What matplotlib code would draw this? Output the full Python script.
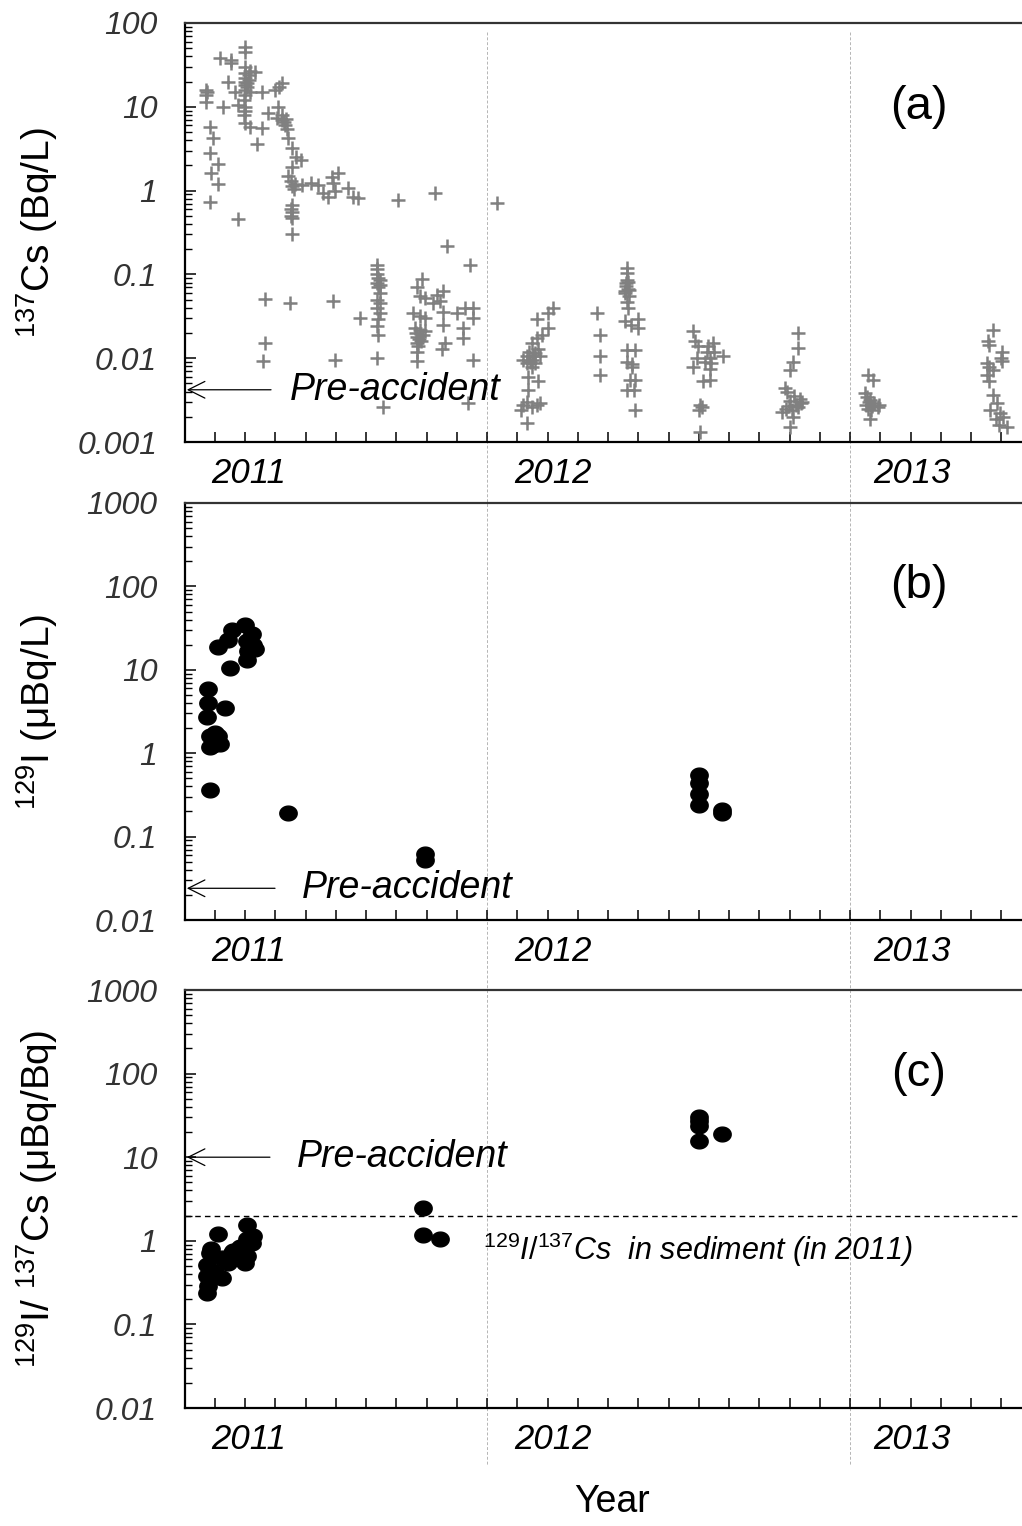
import numpy as np
import matplotlib.pyplot as plt
import matplotlib.transforms as mtransforms
from matplotlib.lines import Line2D
from matplotlib.path import Path
from matplotlib.ticker import FixedLocator, NullFormatter

plt.rcParams['font.family'] = ['Liberation Sans', 'DejaVu Sans']
plt.rcParams['mathtext.fontset'] = 'custom'
plt.rcParams['mathtext.rm'] = 'Liberation Sans'
plt.rcParams['mathtext.it'] = 'Liberation Sans:italic'

# 137Cs in seawater (Bq/L), sampling time as decimal year
cs_year = [
    2011.227, 2011.227, 2011.227, 2011.229, 2011.236, 2011.245, 2011.236, 2011.259, 2011.241, 2011.259, 2011.236,
    2011.265, 2011.296, 2011.294, 2011.273, 2011.287, 2011.306, 2011.314, 2011.314,
    2011.334, 2011.334, 2011.334, 2011.334, 2011.334, 2011.334, 2011.334, 2011.334, 2011.334, 2011.330, 2011.334,
    2011.334, 2011.330, 2011.334,
    2011.340, 2011.340, 2011.343, 2011.348, 2011.348, 2011.345, 2011.362, 2011.348, 2011.381, 2011.367, 2011.381,
    2011.397, 2011.416, 2011.421, 2011.425, 2011.435, 2011.428, 2011.436, 2011.436, 2011.440, 2011.444, 2011.446,
    2011.448, 2011.453, 2011.463,
    2011.473, 2011.487, 2011.463, 2011.453, 2011.459, 2011.463, 2011.470, 2011.468, 2011.463, 2011.459, 2011.463,
    2011.459, 2011.463, 2011.463,
    2011.491, 2011.516, 2011.534, 2011.548, 2011.562, 2011.572, 2011.590, 2011.576, 2011.581, 2011.617, 2011.631,
    2011.645, 2011.754, 2011.858, 2012.028, 2011.891, 2011.954,
    2011.388, 2011.458, 2011.576, 2011.388, 2011.383, 2011.581, 2011.696, 2011.650,
    2011.696, 2011.696, 2011.698, 2011.701, 2011.705, 2011.698, 2011.705, 2011.701, 2011.705, 2011.698, 2011.705,
    2011.698, 2011.705, 2011.701, 2011.698, 2011.701, 2011.714,
    2011.820, 2011.806, 2011.815, 2011.829, 2011.851, 2011.861, 2011.879, 2011.870, 2011.796, 2011.815, 2011.829,
    2011.879, 2011.917, 2011.940, 2011.962, 2011.962, 2011.879, 2011.934, 2011.934,
    2011.803, 2011.808, 2011.813, 2011.818, 2011.806, 2011.823, 2011.810, 2011.828, 2011.801, 2011.816, 2011.884,
    2011.875, 2011.806, 2011.806, 2011.962, 2011.948,
    2012.183, 2012.168, 2012.137, 2012.168, 2012.151, 2012.137, 2012.123, 2012.140, 2012.109, 2012.126, 2012.146,
    2012.098, 2012.123, 2012.109,
    2012.132, 2012.123, 2012.112, 2012.140, 2012.112, 2012.098, 2012.109, 2012.137, 2012.146, 2012.123, 2012.094,
    2012.109, 2012.116, 2012.131, 2012.119,
    2012.303, 2012.312, 2012.312, 2012.312,
    2012.385, 2012.385, 2012.385, 2012.382, 2012.387, 2012.380, 2012.390, 2012.385, 2012.387, 2012.380, 2012.396,
    2012.417, 2012.417, 2012.385,
    2012.409, 2012.385, 2012.399, 2012.399, 2012.393, 2012.409, 2012.385, 2012.406, 2012.409, 2012.383, 2012.388,
    2012.390, 2012.381,
    2012.567, 2012.573, 2012.623, 2012.581, 2012.609, 2012.651, 2012.579, 2012.615, 2012.601, 2012.618,
    2012.615, 2012.567, 2012.615, 2012.595, 2012.587, 2012.593, 2012.583, 2012.587, 2012.606, 2012.626,
    2012.858, 2012.858, 2012.844, 2012.835, 2012.821, 2012.827, 2012.846, 2012.861, 2012.869, 2012.836,
    2012.851, 2012.831, 2012.856, 2012.866, 2012.813, 2012.844, 2012.835, 2012.824, 2012.841,
    2013.050, 2013.064, 2013.041, 2013.046, 2013.056, 2013.051, 2013.066, 2013.043, 2013.061, 2013.076, 2013.049,
    2013.059, 2013.056, 2013.081,
    2013.394, 2013.380, 2013.384, 2013.419, 2013.416, 2013.419, 2013.377, 2013.394, 2013.383, 2013.377,
    2013.383, 2013.394, 2013.405, 2013.386, 2013.413, 2013.422, 2013.411, 2013.433, 2013.403,
]
cs_value = [
    16, 14, 11.5, 15, 5.8, 4.2, 2.8, 2.1, 1.6, 1.2, 0.73,
    38, 36, 33, 10, 20, 15, 10.5, 0.46,
    52, 45, 30, 25, 22, 20, 18, 16, 14, 12, 10,
    9, 8, 6.4,
    19, 17, 24, 27, 15, 21, 26, 5.8, 5.6, 3.6, 15,
    8.5, 16, 7.4, 10, 19, 17, 8, 7, 6.5, 6, 7.2,
    5.5, 4.2, 3.2,
    2.5, 2.3, 1.9, 1.5, 1.3, 1.15, 1.2, 1.05, 0.67, 0.6, 0.55,
    0.5, 0.47, 0.3,
    1.17, 1.23, 1.17, 0.93, 0.85, 1.47, 1.6, 1.23, 0.98, 1.07, 0.85,
    0.81, 0.78, 0.93, 0.71, 0.22, 0.13,
    0.051, 0.046, 0.048, 0.0153, 0.0093, 0.0096, 0.010, 0.030,
    0.13, 0.115, 0.1, 0.09, 0.085, 0.08, 0.075, 0.07, 0.06, 0.05, 0.045,
    0.04, 0.035, 0.029, 0.024, 0.019, 0.0026,
    0.088, 0.07, 0.055, 0.052, 0.046, 0.057, 0.064, 0.048, 0.035, 0.032, 0.03,
    0.036, 0.035, 0.040, 0.040, 0.030, 0.025, 0.023, 0.0175,
    0.02, 0.018, 0.017, 0.016, 0.015, 0.019, 0.014, 0.021, 0.023, 0.022, 0.015,
    0.013, 0.012, 0.0093, 0.0096, 0.0029,
    0.040, 0.035, 0.029, 0.023, 0.019, 0.0175, 0.015, 0.013, 0.0106, 0.0106, 0.0106,
    0.0096, 0.0096, 0.0087,
    0.0087, 0.0078, 0.0059, 0.0053, 0.0042, 0.0028, 0.003, 0.0028, 0.0029, 0.0026, 0.0024,
    0.0017, 0.012, 0.0115, 0.009,
    0.035, 0.019, 0.0107, 0.0063,
    0.12, 0.105, 0.086, 0.072, 0.067, 0.06, 0.055, 0.047, 0.04, 0.028, 0.025,
    0.029, 0.023, 0.0126,
    0.0126, 0.009, 0.0085, 0.0078, 0.0055, 0.0055, 0.0042, 0.0042, 0.0024, 0.078, 0.082,
    0.065, 0.063,
    0.021, 0.016, 0.015, 0.014, 0.014, 0.0107, 0.010, 0.010, 0.009, 0.0088,
    0.0075, 0.0078, 0.0055, 0.0054, 0.0028, 0.0026, 0.0024, 0.0013, 0.012, 0.0118,
    0.0198, 0.0131, 0.0091, 0.0072, 0.0044, 0.0039, 0.0035, 0.0033, 0.003, 0.0031,
    0.0028, 0.0027, 0.0026, 0.0029, 0.0023, 0.002, 0.0015, 0.0025, 0.0024,
    0.0063, 0.0055, 0.0038, 0.0034, 0.0032, 0.003, 0.0029, 0.0028, 0.0027, 0.0026, 0.0025,
    0.0024, 0.0019, 0.0028,
    0.0217, 0.016, 0.0145, 0.0118, 0.0101, 0.0093, 0.0087, 0.0073, 0.0078, 0.0063,
    0.0053, 0.0036, 0.0029, 0.0024, 0.0022, 0.002, 0.0016, 0.0015, 0.0019,
]

# 129I in seawater (uBq/L)
iod_year = [2011.333, 2011.297, 2011.352, 2011.338, 2011.287, 2011.355, 2011.259, 2011.342, 2011.361, 2011.338,
            2011.292, 2011.231, 2011.231, 2011.228, 2011.278, 2011.237, 2011.259, 2011.264, 2011.237, 2011.245,
            2011.251, 2011.237, 2011.453, 2011.829, 2011.829, 2012.585, 2012.585, 2012.585, 2012.585, 2012.646,
            2012.646]
iod_value = [34, 30, 27, 22, 23, 20, 19, 17, 18, 13,
             10.5, 5.9, 4.0, 2.7, 3.5, 1.6, 1.6, 1.3, 1.2, 1.25,
             1.75, 0.36, 0.19, 0.062, 0.052, 0.55, 0.44, 0.32, 0.24, 0.21,
             0.19]

# 129I/137Cs activity ratio (uBq/Bq)
ratio_year = [2011.338, 2011.356, 2011.352, 2011.338, 2011.333, 2011.260, 2011.297, 2011.237, 2011.287, 2011.228,
              2011.269, 2011.269, 2011.228, 2011.232, 2011.228, 2011.240, 2011.300, 2011.320, 2011.340, 2011.250,
              2011.824, 2011.824, 2011.870, 2012.585, 2012.585, 2012.585, 2012.585, 2012.646]
ratio_value = [1.56, 1.13, 0.94, 0.65, 0.55, 1.19, 0.72, 0.72, 0.55, 0.52,
               0.63, 0.36, 0.38, 0.29, 0.24, 0.80, 0.75, 0.85, 1.05, 0.42,
               2.47, 1.18, 1.05, 30, 27, 23.6, 15.7, 19]

pre_accident = [0.0042, 0.024, 10]
sediment_ratio = 2.0

panel_tags = ['(a)', '(b)', '(c)']
y_titles = [r'$\mathrm{^{137}}$Cs (Bq/L)',
            r'$\mathrm{^{129}}$I (μBq/L)',
            r'$\mathrm{^{129}}$I/ $\mathrm{^{137}}$Cs (μBq/Bq)']
y_limits = [(0.001, 100), (0.01, 1000), (0.01, 1000)]
year_labels = ['2011', '2012', '2013']
year_label_pos = [2011.342, 2012.183, 2013.171]
year_lines = [2012.0, 2013.0]

W, H = 1022, 1526
fig = plt.figure(figsize=(W / 100, H / 100), dpi=100)

# axes boxes in pixels: (top, bottom)
boxes = [(23, 442), (503, 920), (990, 1408)]
left_px, right_px = 185, 1021
x_range = (2011.168, 2013.471)

circle = np.linspace(0, 2 * np.pi, 60)
dot = Path(np.column_stack([np.cos(circle), 0.85 * np.sin(circle)]))

axes = []
for i, (top, bottom) in enumerate(boxes):
    ax = fig.add_axes([left_px / W, 1 - bottom / H, (right_px - left_px) / W, (bottom - top) / H])
    ax.set_facecolor('none')
    ax.set_yscale('log')
    ax.set_xlim(*x_range)
    ax.set_ylim(*y_limits[i])
    ax.spines['right'].set_visible(False)
    for side in ['left', 'bottom', 'top']:
        ax.spines[side].set_linewidth(1.6)
    ax.spines['top'].set_color('#333333')

    # monthly ticks along the time axis
    ax.xaxis.set_major_locator(FixedLocator(np.arange(2011 + 2 / 12, 2013.5, 1 / 12)))
    ax.xaxis.set_major_formatter(NullFormatter())
    ax.tick_params(axis='x', which='both', direction='in', length=7, width=1.1, top=False)

    lo, hi = y_limits[i]
    majors = 10.0 ** np.arange(np.log10(lo), np.log10(hi) + 0.5)
    minors = [m * d for d in majors[:-1] for m in range(2, 10)]
    ax.set_yticks(majors)
    ax.set_yticks(minors, minor=True)
    ax.set_yticklabels([f'{v:g}' for v in majors], fontsize=23, fontstyle='italic', color='#333333')
    ax.yaxis.set_minor_formatter(NullFormatter())
    ax.tick_params(axis='y', which='major', direction='in', length=8, width=1.1, pad=20)
    ax.tick_params(axis='y', which='minor', direction='in', length=5, width=1.0)

    # year names below the axis
    trans = mtransforms.blended_transform_factory(ax.transData, ax.transAxes)
    for lab, pos in zip(year_labels, year_label_pos):
        ax.text(pos, -0.076, lab, transform=trans, ha='center', va='center',
                fontsize=25, fontstyle='italic', color='black')

    ax.text(2013.19, 10 ** (np.log10(hi) - 1.0), panel_tags[i], fontsize=34, ha='center', va='center')

    cy = (top + bottom) / 2
    fig.text(37 / W, 1 - cy / H, y_titles[i], rotation=90, ha='center', va='center', fontsize=28)
    axes.append(ax)

ax_a, ax_b, ax_c = axes

ax_a.plot(cs_year, cs_value, linestyle='none', marker='+', markersize=9.5,
          markeredgewidth=1.8, color='#808080')
ax_b.plot(iod_year, iod_value, linestyle='none', marker=dot, markersize=12.5, color='black')
ax_c.plot(ratio_year, ratio_value, linestyle='none', marker=dot, markersize=12.5, color='black')

# pre-accident levels: arrow to the y axis plus label
arrow_start = [2011.405, 2011.416, 2011.402]
text_start = [2011.457, 2011.490, 2011.477]
for ax, level, xa, xt in zip(axes, pre_accident, arrow_start, text_start):
    ax.annotate('', xy=(2011.173, level), xytext=(xa, level),
                arrowprops=dict(arrowstyle='->, head_length=0.6, head_width=0.3', color='black',
                                lw=0.9, mutation_scale=20, shrinkA=0, shrinkB=0))
    ax.text(xt, level, 'Pre-accident', fontsize=27, fontstyle='italic', ha='left', va='center')

ax_c.axhline(sediment_ratio, color='black', lw=1.0, linestyle=(0, (4, 3)))
ax_c.text(2011.989, 0.78, r'$\mathit{^{129}I/^{137}Cs}$  in sediment (in 2011)',
          fontsize=22, fontstyle='italic', ha='left', va='center')

# year boundaries run through all three panels
vtrans = mtransforms.blended_transform_factory(ax_c.transData, fig.transFigure)
for yr in year_lines:
    fig.add_artist(Line2D([yr, yr], [1 - 32 / H, 1 - 1466 / H], transform=vtrans,
                          color='#b5b5b5', lw=0.7, linestyle=(0, (3, 2)), zorder=-1))

fig.text(612 / W, 1 - 1502 / H, 'Year', fontsize=27, ha='center', va='center')

fig.savefig('out.png', dpi=100)
